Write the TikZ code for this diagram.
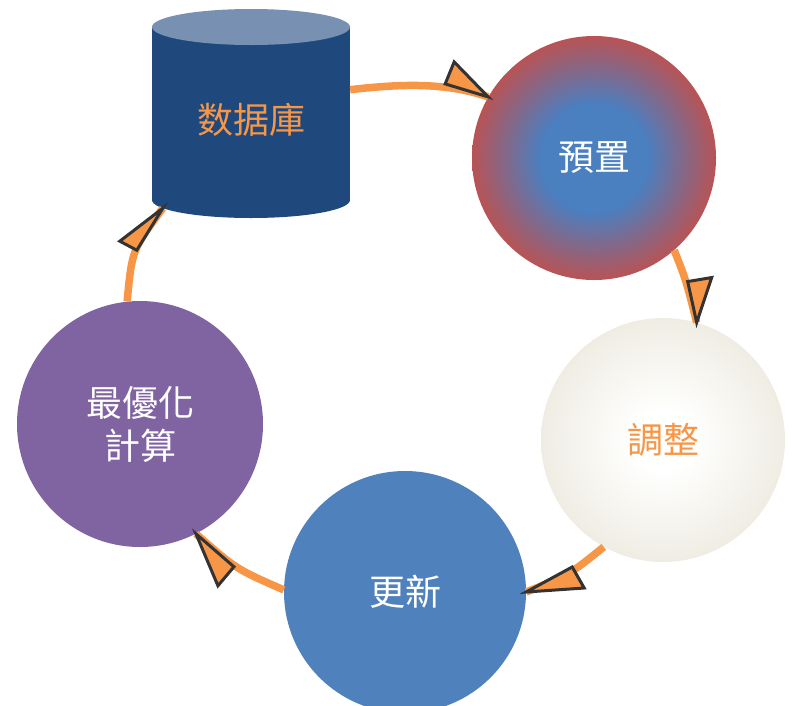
\documentclass[tikz,border=0pt]{standalone}
\usepackage{fontspec}
\newfontfamily\cjk{Noto Sans CJK TC}
\definecolor{ring}{HTML}{F79646}
\definecolor{headline}{HTML}{333333}
\definecolor{dbbody}{HTML}{1F497D}
\definecolor{dbtop}{HTML}{7891B2}
\definecolor{pblue}{HTML}{4A7FC0}
\definecolor{pred}{HTML}{C0504D}
\definecolor{beige}{HTML}{EDEBE0}
\definecolor{gxblue}{HTML}{4F81BD}
\definecolor{purple}{HTML}{8064A2}
\pgfdeclareradialshading{pzshade}{\pgfpoint{0bp}{0bp}}{color(0bp)=(pblue); color(11bp)=(pblue); color(26bp)=(pred); color(50bp)=(pred)}
\pgfdeclareradialshading{tzshade}{\pgfpoint{0bp}{0bp}}{color(0bp)=(white); color(6bp)=(white); color(27bp)=(beige); color(50bp)=(beige)}
\begin{document}
\begin{tikzpicture}[x=1pt,y=-1pt,
  cnode/.style={circle, minimum size=244pt, inner sep=0pt, font=\cjk\fontsize{36}{43}\selectfont, align=center, text=white},
  dbnode/.style={rectangle, minimum width=198pt, minimum height=176pt, inner sep=0pt, font=\cjk\fontsize{36}{43}\selectfont, text=ring},
  ringline/.style={draw=ring, line width=7.5pt},
  head/.style={fill=ring, draw=headline, line width=3pt, line join=miter}]
\useasboundingbox (0,0) rectangle (792,705);
% cylinder
\fill[dbbody] (251,200) ellipse [x radius=99pt, y radius=18pt];
\fill[dbbody] (152,27) rectangle (350,200);
\fill[dbtop] (251,27) ellipse [x radius=99pt, y radius=18pt];
\node[dbnode] (db) at (251,120) {数据庫};
% circles
\node[cnode, shading=pzshade] (pz) at (594,158) {預置};
\node[cnode, shading=tzshade, text=ring] (tz) at (663,440) {調整};
\node[cnode, fill=gxblue, minimum size=242pt] (gx) at (405,592) {更新};
\node[cnode, fill=purple, minimum size=246pt] (zy) at (140,424) {最優化\\計算};
% connectors
\draw[ringline] (db.17) .. controls (400,84) and (445,82) .. (pz.150);
\draw[ringline] (pz.-49) .. controls (686,280) .. (tz.74);
\draw[ringline] (tz.241) .. controls (569,575) .. (gx.0);
\draw[ringline] (gx.179) .. controls (236,569) .. (zy.297);
\draw[ringline] (zy.96) .. controls (132,250) .. (db.225);
% arrow heads
\draw[head] (pz.150) -- ++(-43,-13) -- ++(9,-22) -- cycle;
\draw[head] (tz.74) -- ++(-9,-41) -- ++(24,-4) -- cycle;
\draw[head] (gx.0) -- ++(46,-25) -- ++(12,21) -- cycle;
\draw[head] (zy.297) -- ++(38,33) -- ++(-16,19) -- cycle;
\draw[head] (db.225) -- ++(-43,33) -- ++(17,9) -- cycle;
\end{tikzpicture}
\end{document}
